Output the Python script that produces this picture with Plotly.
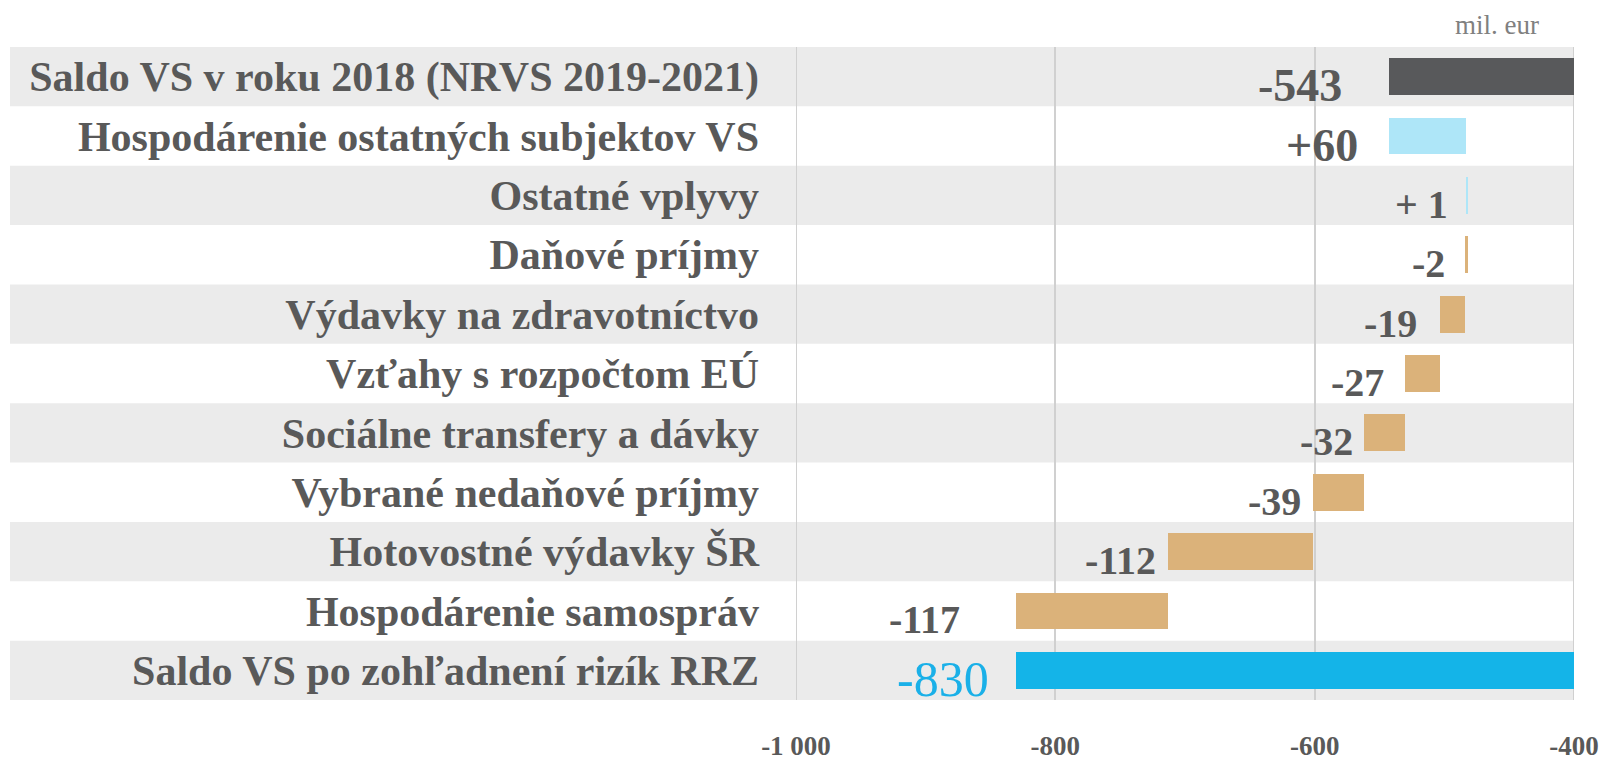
import numpy as np
import plotly.graph_objects as go

# ---------------- data ----------------
categories = [
    "Saldo VS v roku 2018 (NRVS 2019-2021)",
    "Hospodárenie ostatných subjektov VS",
    "Ostatné vplyvy",
    "Daňové príjmy",
    "Výdavky na zdravotníctvo",
    "Vzťahy s rozpočtom EÚ",
    "Sociálne transfery a dávky",
    "Vybrané nedaňové príjmy",
    "Hotovostné výdavky ŠR",
    "Hospodárenie samospráv",
    "Saldo VS po zohľadnení rizík RRZ",
]
values = [-543, 60, 1, -2, -19, -27, -32, -39, -112, -117, -830]
measures = ["absolute"] + ["relative"] * 9 + ["total"]
value_labels = ["-543", "+60", "+ 1", "-2", "-19", "-27", "-32", "-39", "-112", "-117", "-830"]
x_tickvals = [-1000, -800, -600, -400]
x_ticktext = ["-1 000", "-800", "-600", "-400"]
unit_label = "mil. eur"

# ---------------- styles ----------------
GRAY_TEXT = "#595959"
BAND = "#ebebeb"
GRID = "#d0d0d0"
C_START = "#58595b"
C_UP = "#aee6f8"
C_DOWN = "#dbb27a"
C_TOTAL = "#14b4e8"
FONT_B = "Liberation Serif"
# pixel gap between each value label and its bar (style only)
label_gaps = [45, 29, 16, 18, 21, 19, 9, 10, 10, 54, 25]

# waterfall geometry from data
bases, lengths, colors = [], [], []
running = 0.0
for v, m in zip(values, measures):
    if m in ("absolute", "total"):
        bases.append(0)
        lengths.append(v)
        running = v
        colors.append(C_START if m == "absolute" else C_TOTAL)
    else:
        bases.append(running)
        lengths.append(v)
        running += v
        colors.append(C_UP if v > 0 else C_DOWN)
bases = np.array(bases, dtype=float)
lengths = np.array(lengths, dtype=float)
left_ends = np.minimum(bases, bases + lengths)

ypos = list(range(len(categories)))

fig = go.Figure()
fig.add_trace(go.Bar(
    y=ypos, x=lengths, base=bases, orientation="h",
    marker=dict(color=colors, line=dict(width=0)),
    width=0.62, hoverinfo="skip", showlegend=False,
))

n = len(categories)
shapes = []
for i in range(0, n, 2):
    shapes.append(dict(
        type="rect", xref="paper", yref="paper",
        x0=-1.0103, x1=1.0, y0=1 - (i + 1) / n, y1=1 - i / n,
        fillcolor=BAND, line=dict(width=0), layer="below",
    ))
# gridlines at the two ends of the range
for xv in (x_tickvals[0], x_tickvals[-1]):
    shapes.append(dict(
        type="line", xref="x", yref="paper", x0=xv, x1=xv, y0=0, y1=1,
        line=dict(color=GRID, width=2), layer="between",
    ))

annotations = []
for i, (xe, lab, m, gap) in enumerate(zip(left_ends, value_labels, measures, label_gaps)):
    if m == "total":
        fnt = dict(family=FONT_B, size=50, color="#1ab0e8")
    elif i < 2:
        fnt = dict(family=FONT_B, size=46, color=GRAY_TEXT, weight="bold")
    else:
        fnt = dict(family=FONT_B, size=40, color=GRAY_TEXT, weight="bold")
    annotations.append(dict(
        x=xe, y=i, xref="x", yref="y", text=lab, showarrow=False,
        xanchor="right", yanchor="middle", xshift=-gap, yshift=-9, font=fnt,
    ))
annotations.append(dict(
    x=0.957, y=1.034, xref="paper", yref="paper", text=unit_label, showarrow=False,
    xanchor="right", yanchor="middle",
    font=dict(family=FONT_B, size=27, color="#808080"),
))

fig.update_layout(
    width=1614, height=763,
    margin=dict(l=788, r=48, t=39, b=71, autoexpand=False),
    paper_bgcolor="white", plot_bgcolor="rgba(0,0,0,0)",
    shapes=shapes, annotations=annotations,
    bargap=0,
    xaxis=dict(
        range=[-1000, -400], tickvals=x_tickvals, ticktext=x_ticktext,
        showgrid=True, gridcolor=GRID, gridwidth=2, zeroline=False,
        showline=False, ticks="", ticklabelstandoff=27, automargin=False,
        tickfont=dict(family=FONT_B, size=27, color=GRAY_TEXT, weight="bold"),
        fixedrange=True,
    ),
    yaxis=dict(
        range=[n - 0.5, -0.5], tickvals=ypos, ticktext=categories,
        showgrid=False, zeroline=False, showline=False, ticks="",
        ticklabelstandoff=36, automargin=False,
        tickfont=dict(family=FONT_B, size=42, color=GRAY_TEXT, weight="bold"),
        fixedrange=True,
    ),
)

fig.write_html("out.html")
